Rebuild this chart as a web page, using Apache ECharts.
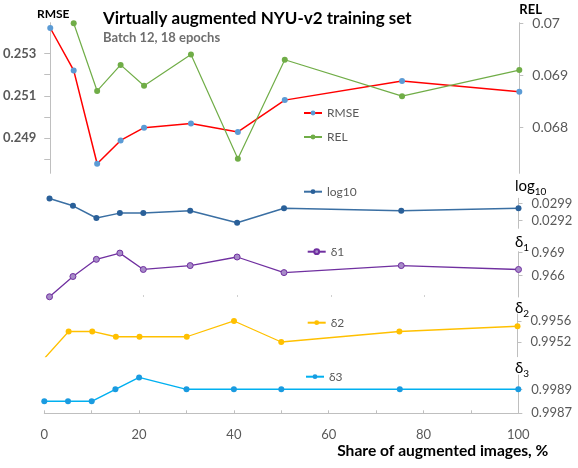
<!DOCTYPE html>
<html><head><meta charset="utf-8">
<script src="https://cdn.jsdelivr.net/npm/echarts@6/dist/echarts.min.js"></script>
<style>html,body{margin:0;padding:0;background:#fff}#c{width:578px;height:468px}</style>
</head><body><div id="c"></div>
<script>
const shares = [0, 5, 10, 15, 20, 30, 40, 50, 75, 100];
const rmse   = [0.2542, 0.2522, 0.2478, 0.2489, 0.2495, 0.2497, 0.2493, 0.2508, 0.2517, 0.2512];
const rel    = [null, 0.0700, 0.0687, 0.0692, 0.0688, 0.0694, 0.0674, 0.0693, 0.0686, 0.0691];
const log10  = [0.0301, 0.0298, 0.0293, 0.0295, 0.0295, 0.0296, 0.0291, 0.0297, 0.0296, 0.0297];
const delta1 = [0.9633, 0.9659, 0.9681, 0.9689, 0.9668, 0.9673, 0.9684, 0.9664, 0.9673, 0.9668];
const delta2 = [0.9949, 0.9954, 0.9954, 0.9953, 0.9953, 0.9953, 0.9956, 0.9952, 0.9954, 0.9955];
const delta3 = [0.9988, 0.9988, 0.9988, 0.9989, 0.9990, 0.9989, 0.9989, 0.9989, 0.9989, 0.9989];

const xLabels = [0, 20, 40, 60, 80, 100];
const xTicks = [0, 10, 20, 30, 40, 50, 60, 70, 80, 90, 100];
const d1XTicks = [20, 40, 60, 80];
const rmseLabels = [0.249, 0.251, 0.253];
const rmseTicks = [0.248, 0.249, 0.250, 0.251, 0.252, 0.253];
const relTicks = [0.068, 0.069, 0.07];
const log10Ticks = [0.0292, 0.0299];
const delta1Ticks = [0.966, 0.969];
const delta2Ticks = [0.9952, 0.9956];
const delta3Ticks = [0.9987, 0.9989];
const panelNames = [['log', '10'], ['δ', '1'], ['δ', '2'], ['δ', '3']];

const FONT = 'Lato';
const GRAY = '#bfbfbf';
const LBL = '#595959';

function pts(arr) {
  const out = [];
  shares.forEach((x, i) => { if (arr[i] != null) out.push([x, arr[i]]); });
  return out;
}

const grids = [
  {left: 49.3, top: 22.7, width: 470, height: 150.6},
  {left: 49.5, top: 198.3, width: 469, height: 30},
  {left: 49.5, top: 251.7, width: 469, height: 45.3},
  {left: 45, top: 314, width: 472.5, height: 42.7},
  {left: 44.3, top: 375, width: 474, height: 38.3}
];

function hiddenX(gi) {
  return {type: 'value', gridIndex: gi, min: 0, max: 100,
    axisLine: {show: false, onZero: false}, axisTick: {show: false}, axisLabel: {show: false}, splitLine: {show: false}};
}

const xAxes = [hiddenX(0), hiddenX(1),
  {type: 'value', gridIndex: 2, min: 0, max: 100, axisLine: {show: false, onZero: false},
   axisTick: {show: true, inside: true, length: 2, customValues: d1XTicks, lineStyle: {color: '#d0d0d0'}},
   axisLabel: {show: false}, splitLine: {show: false}},
  hiddenX(3),
  {type: 'value', gridIndex: 4, min: 0, max: 100,
   axisLine: {show: true, onZero: false, lineStyle: {color: GRAY, width: 1}},
   axisTick: {show: true, inside: true, length: 3, customValues: xTicks, lineStyle: {color: GRAY}},
   axisLabel: {show: true, customValues: xLabels, margin: 15, color: LBL, fontSize: 13, fontFamily: FONT},
   splitLine: {show: false},
   name: 'Share of augmented images, %', nameLocation: 'end', nameGap: 30,
   nameTextStyle: {align: 'right', verticalAlign: 'top', padding: [30, 0, 0, 0],
     color: '#000', fontSize: 15.6, fontWeight: 'bold', fontFamily: FONT}}
];

function rightY(gi, min, max, ticks) {
  return {type: 'value', gridIndex: gi, position: 'right', min: min, max: max,
    axisLine: {show: true, onZero: false, lineStyle: {color: GRAY, width: 1}},
    axisTick: {show: true, length: 4, customValues: ticks, lineStyle: {color: GRAY}},
    axisLabel: {show: true, customValues: ticks, margin: 13, color: LBL, fontSize: 13, fontFamily: FONT,
      formatter: v => String(v)},
    splitLine: {show: false}};
}

const yAxes = [
  {type: 'value', gridIndex: 0, position: 'left', min: 0.24735, max: 0.25445,
   axisLine: {show: true, onZero: false, lineStyle: {color: GRAY, width: 1}},
   axisTick: {show: true, length: 6, customValues: rmseTicks, lineStyle: {color: GRAY}},
   axisLabel: {show: true, customValues: rmseLabels, margin: 14, color: LBL, fontSize: 13,
     fontWeight: 'bold', fontFamily: FONT, formatter: v => v.toFixed(3)},
   splitLine: {show: false},
   name: 'RMSE', nameLocation: 'end', nameGap: 9,
   nameTextStyle: {align: 'center', verticalAlign: 'middle', padding: [0, 0, 0, 6],
     color: '#000', fontSize: 12, fontWeight: 'bold', fontFamily: FONT}},
  {type: 'value', gridIndex: 0, position: 'right', min: 0.06712, max: 0.07001,
   axisLine: {show: true, onZero: false, lineStyle: {color: GRAY, width: 1}},
   axisTick: {show: true, length: 4, customValues: relTicks, lineStyle: {color: GRAY}},
   axisLabel: {show: true, customValues: relTicks, margin: 13, color: LBL, fontSize: 14, fontFamily: FONT,
     formatter: v => String(v)},
   splitLine: {show: false},
   name: 'REL', nameLocation: 'end', nameGap: 12,
   nameTextStyle: {align: 'left', verticalAlign: 'middle', color: '#000', fontSize: 13, fontWeight: 'bold', fontFamily: FONT}},
  rightY(1, 0.028875, 0.03011, log10Ticks),
  rightY(2, 0.96327, 0.96908, delta1Ticks),
  rightY(3, 0.99492, 0.995733, delta2Ticks),
  rightY(4, 0.9987, 0.99902, delta3Ticks)
];

function ser(name, arr, xi, yi, lineColor, markColor, lw, border) {
  return {name: name, type: 'line', xAxisIndex: xi, yAxisIndex: yi, data: pts(arr),
    symbol: 'circle', symbolSize: 6, clip: true,
    lineStyle: {color: lineColor, width: lw},
    itemStyle: Object.assign({color: markColor}, border ? {borderColor: border, borderWidth: 1} : {borderWidth: 0}),
    emphasis: {disabled: true}};
}

const series = [
  ser('RMSE', rmse, 0, 0, '#ff0000', '#5b9bd5', 1.5),
  ser('REL', rel, 0, 1, '#70ad47', '#70ad47', 1.2),
  ser('log10', log10, 1, 2, '#3a6fa3', '#2a6099', 1.5),
  ser('δ1', delta1, 2, 3, '#7030a0', '#a78bc8', 1.3, '#7030a0'),
  ser('δ2', delta2, 3, 4, '#ffc000', '#ffc000', 1.3),
  ser('δ3', delta3, 4, 5, '#00b0f0', '#1a9be0', 1.5)
];

function leg(name, left, top) {
  return {data: [name], left: left, top: top, orient: 'horizontal', padding: 0,
    itemWidth: 18, itemHeight: 6, itemGap: 0, selectedMode: false,
    textStyle: {color: LBL, fontSize: 12, fontFamily: FONT, lineHeight: 14, padding: [0, 0, 0, 0]}};
}

const nameRich = {
  a: {fontSize: 15, fill: '#000', fontFamily: FONT, verticalAlign: 'top', lineHeight: 18},
  b: {fontSize: 10, fill: '#000', fontFamily: FONT, verticalAlign: 'bottom', lineHeight: 10}
};
const nameY = [187.5, 244, 310, 370];
const nameX = [515, 515, 515, 515];
const graphics = panelNames.map((p, i) => ({
  type: 'text', x: nameX[i], y: nameY[i], silent: true,
  style: {text: '{a|' + p[0] + '}{b|' + p[1] + '}', rich: nameRich, align: 'left', verticalAlign: 'middle'}
}));

const option = {
  animation: false,
  backgroundColor: '#fff',
  textStyle: {fontFamily: FONT},
  title: [
    {text: 'Virtually augmented NYU-v2 training set', left: 103, top: 9, padding: 0,
     textStyle: {fontSize: 17, fontWeight: 'bold', color: '#000', fontFamily: FONT, lineHeight: 20}},
    {text: 'Batch 12, 18 epochs', left: 103, top: 31, padding: 0,
     textStyle: {fontSize: 13, fontWeight: 'bold', color: '#6e6e6e', fontFamily: FONT, lineHeight: 14}}
  ],
  legend: [
    leg('RMSE', 303, 106), leg('REL', 303, 130), leg('log10', 303, 184.7),
    leg('δ1', 306.7, 244.7), leg('δ2', 306.7, 315.7), leg('δ3', 305, 369.7)
  ],
  grid: grids,
  xAxis: xAxes,
  yAxis: yAxes,
  series: series,
  graphic: graphics
};

const chart = echarts.init(document.getElementById('c'), null, {renderer: 'canvas'});
chart.setOption(option);
</script>
</body></html>
